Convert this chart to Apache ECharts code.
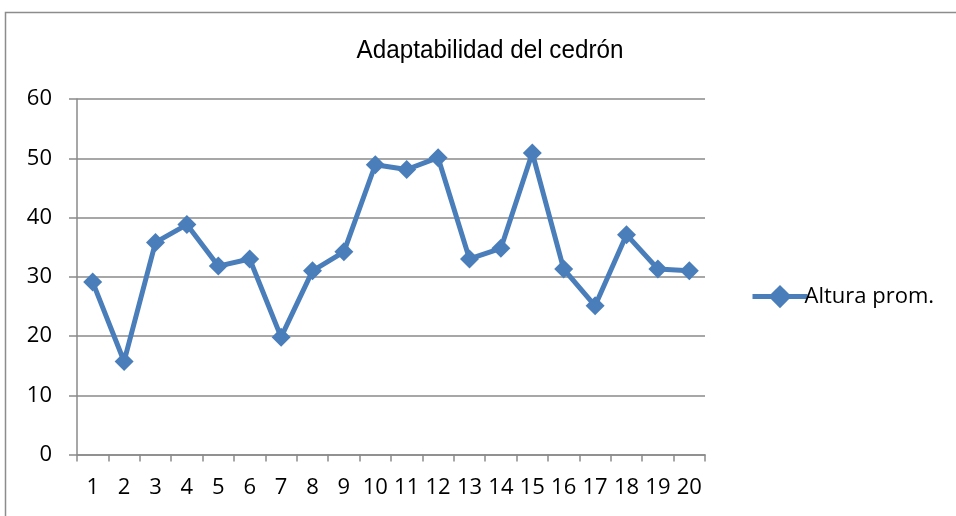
<!DOCTYPE html>
<html><head><meta charset="utf-8">
<script src="https://cdn.jsdelivr.net/npm/echarts@6/dist/echarts.min.js"></script>
<style>html,body{margin:0;padding:0;background:#fff}#c{width:956px;height:516px}</style>
</head><body><div id="c"></div>
<script>
const categories = ['1','2','3','4','5','6','7','8','9','10','11','12','13','14','15','16','17','18','19','20'];
const alturaProm = [29.1, 15.7, 35.8, 38.8, 31.8, 33.0, 19.8, 31.0, 34.2, 48.9, 48.1, 50.1, 33.0, 34.8, 50.9, 31.3, 25.1, 37.1, 31.3, 31.0];
const seriesName = 'Altura prom.';
const titleText = 'Adaptabilidad del cedrón';

const chart = echarts.init(document.getElementById('c'), null, {renderer: 'canvas'});
const lineColor = '#4a7ebb';
const gridColor = '#8a8a8a';
const labelFont = '"Open Sans", "Noto Sans", sans-serif';
chart.setOption({
  animation: false,
  backgroundColor: '#fff',
  graphic: [{
    type: 'rect', silent: true,
    shape: {x: 5.5, y: 12.5, width: 1000, height: 600},
    style: {fill: 'none', stroke: '#8c8c8c', lineWidth: 1.5}
  }, {
    type: 'text', silent: true,
    x: 490, y: 51, scaleX: 0.97,
    style: {text: titleText, fill: '#000', font: '25px "Liberation Sans", Arial, sans-serif', textAlign: 'center', textVerticalAlign: 'middle'}
  }],
  legend: {
    data: [seriesName], left: 745, top: 280, orient: 'vertical',
    itemWidth: 55, itemHeight: 29, itemGap: 4,
    lineStyle: {width: 5, color: lineColor},
    textStyle: {fontFamily: labelFont, fontSize: 22, color: '#000', padding: [0,0,0,-8]}
  },
  grid: {left: 77, right: 251, top: 99, bottom: 61.5, containLabel: false},
  xAxis: {
    type: 'category', data: categories, boundaryGap: true,
    axisLine: {lineStyle: {color: gridColor, width: 1.5}},
    axisTick: {show: true, length: 7, inside: false, lineStyle: {color: gridColor, width: 1.5}},
    axisLabel: {margin: 22, fontFamily: labelFont, fontSize: 22, color: '#000', interval: 0}
  },
  yAxis: {
    type: 'value', min: 0, max: 60, interval: 10,
    axisLine: {show: true, lineStyle: {color: gridColor, width: 1.5}},
    axisTick: {show: true, length: 8, lineStyle: {color: gridColor, width: 1.5}},
    splitLine: {lineStyle: {color: gridColor, width: 1.5}},
    axisLabel: {margin: 25, fontFamily: labelFont, fontSize: 22, color: '#000'}
  },
  series: [{
    name: seriesName, type: 'line', data: alturaProm,
    symbol: 'diamond', symbolSize: 19, showAllSymbol: true,
    lineStyle: {color: lineColor, width: 5},
    itemStyle: {color: lineColor, borderWidth: 0}
  }]
});
</script></body></html>
